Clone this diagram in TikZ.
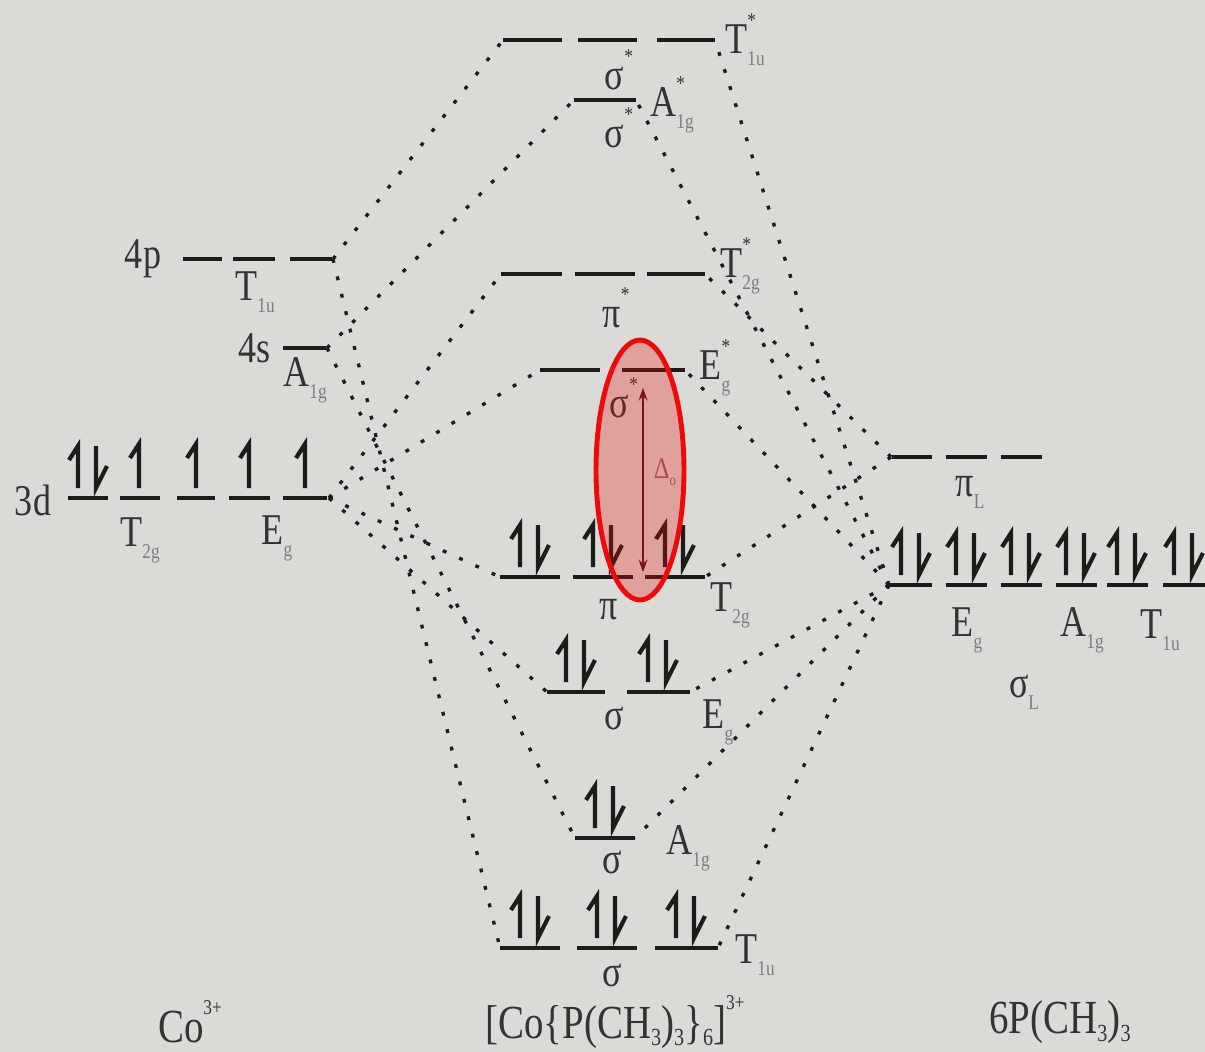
\documentclass[tikz,border=0pt]{standalone}
\usepackage{fontspec}
\usepackage{graphicx}
\setmainfont{Liberation Serif}
\usetikzlibrary{arrows.meta}
\definecolor{paper}{HTML}{DADAD6}
\definecolor{ink}{HTML}{1C1C1C}
\definecolor{inkgrey}{HTML}{333333}
\definecolor{subgrey}{HTML}{7C7C7C}
\definecolor{hilite}{HTML}{EE0A0A}
\definecolor{deltaink}{HTML}{4E1818}
\definecolor{deltalab}{HTML}{9A6060}

\newcommand{\nar}[1]{\scalebox{0.82}[1]{#1}}
\newcommand{\sbs}[1]{\raisebox{-0.6ex}{\fontsize{12}{12}\selectfont\color{subgrey}#1}}
\newcommand{\sps}[1]{\raisebox{1.3ex}{\fontsize{12}{12}\selectfont #1}}
\newcommand{\orb}[3]{\nar{#1\rlap{\sps{#3}}\sbs{#2}}}
\newcommand{\lsb}[1]{\raisebox{-0.35ex}{\fontsize{14}{14}\selectfont #1}}

\tikzset{
  lvl/.style={ink,line width=2.8pt},
  link/.style={ink,line width=1.9pt,dash pattern=on 2.2pt off 8pt},
  spin/.style={ink,line width=2.4pt},
  lab/.style={inkgrey,font=\fontsize{25}{25}\selectfont,inner sep=0pt},
  bigl/.style={inkgrey,font=\fontsize{27}{27}\selectfont,inner sep=0pt},
  pics/spinpair/.style={code={
    \draw[spin] (-10,-10)--(-10,-52)--(-19,-38);
    \draw[spin] (8,-52)--(8,-10)--(19,-32);}},
  pics/spinup/.style={code={
    \draw[spin] (0,-10)--(0,-54)--(-9,-40);}}
}

\begin{document}
\begin{tikzpicture}[x=0.02cm,y=-0.02cm]
  % Paper
  \useasboundingbox (0,0) rectangle (1205,1052);
  \fill[paper] (0,0) rectangle (1205,1052);
  % Metal levels
  \foreach \a/\b/\y in {183/222/259, 233/275/259, 290/332/259, 283/326/348,
    68/108/498, 120/160/498, 177/215/498, 229/270/498, 283/327/498}
    \draw[lvl] (\a,\y)--(\b,\y);
  \pic at (88,498) {spinpair};
  \foreach \cx in {139,196,249,305}
    \pic at (\cx,498) {spinup};
  \node[lab] (l4p) at (143,259) {\nar{4p}};
  \node[lab] (lt1um) at (255,292) {\orb{T}{1u}{}};
  \node[lab] (l4s) at (255,348) {\nar{4s}};
  \node[lab] (la1gm) at (305,380) {\orb{A}{1g}{}};
  \node[lab] (l3d) at (33,500) {\nar{3d}};
  \node[lab] (lt2gm) at (140,540) {\orb{T}{2g}{}};
  \node[lab] (legm) at (277,538) {\orb{E}{g}{}};
  % Complex levels
  \foreach \a/\b/\y in {503/562/40, 578/637/40, 657/715/40, 574/636/100,
    501/562/274, 575/635/274, 647/705/274, 540/600/370, 622/685/370,
    500/560/577, 573/633/577, 645/705/577, 547/605/692, 627/690/692,
    575/635/838, 500/560/948, 577/637/948, 655/718/948}
    \draw[lvl] (\a,\y)--(\b,\y);
  \foreach \cx/\y in {530/577, 603/577, 675/577, 576/692, 658/692,
    605/838, 530/948, 607/948, 686/948}
    \pic at (\cx,\y) {spinpair};
  \node[lab] (lt1us) at (745,40) {\orb{T}{1u}{*}};
  \node[lab] (ss1) at (619,70) {\nar{σ\sps{*}}};
  \node[lab] (la1gs) at (672,105) {\orb{A}{1g}{*}};
  \node[lab] (ss2) at (619,128) {\nar{σ\sps{*}}};
  \node[lab] (lt2gs) at (740,266) {\orb{T}{2g}{*}};
  \node[lab] (pps) at (616,308) {\nar{π\sps{*}}};
  \node[lab] (legs) at (715,368) {\orb{E}{g}{*}};
  \node[lab] (ss3) at (624,398) {\nar{σ\sps{*}}};
  \node[lab] (lt2g) at (730,605) {\orb{T}{2g}{}};
  \node[lab] (pp) at (609,610) {\nar{π}};
  \node[lab] (leg) at (718,722) {\orb{E}{g}{}};
  \node[lab] (s1) at (614,718) {\nar{σ}};
  \node[lab] (la1g) at (688,848) {\orb{A}{1g}{}};
  \node[lab] (s2) at (612,862) {\nar{σ}};
  \node[lab] (lt1u) at (755,955) {\orb{T}{1u}{}};
  \node[lab] (s3) at (612,975) {\nar{σ}};
  % Ligand levels
  \foreach \a/\b/\y in {892/932/457, 946/987/457, 1001/1042/457,
    890/932/585, 946/987/585, 1001/1042/585, 1056/1097/585,
    1107/1148/585, 1163/1205/585}
    \draw[lvl] (\a,\y)--(\b,\y);
  \foreach \cx in {911,966,1021,1076,1127,1184}
    \pic at (\cx,585) {spinpair};
  \node[lab] (lpil) at (970,492) {\nar{π\sbs{L}}};
  \node[lab] (legl) at (967,630) {\orb{E}{g}{}};
  \node[lab] (la1gl) at (1082,630) {\orb{A}{1g}{}};
  \node[lab] (lt1ul) at (1160,630) {\orb{T}{1u}{}};
  \node[lab] (lsigl) at (1024,692) {\nar{σ\sbs{L}}};
  % Level ends
  \coordinate (m4p) at (333,259);
  \coordinate (m4s) at (327,348);
  \coordinate (m3d) at (329,498);
  \coordinate (lpi) at (891,457);
  \coordinate (lsig) at (889,585);
  \foreach \n/\l/\r/\y in {t1us/503/715/40, a1gs/574/636/100,
    t2gs/501/705/274, egs/540/685/370, t2g/500/705/577,
    eg/547/690/692, a1g/575/635/838, t1u/500/718/948}{
    \coordinate (\n-l) at (\l,\y);
    \coordinate (\n-r) at (\r,\y);
  }
  % Correlation lines
  \foreach \t in {t1us,t1u} \draw[link] (m4p)--(\t-l);
  \foreach \t in {a1gs,a1g} \draw[link] (m4s)--(\t-l);
  \foreach \t in {t2gs,egs,t2g,eg} \draw[link] (m3d)--(\t-l);
  \foreach \t in {t1us,a1gs,egs,eg,a1g,t1u} \draw[link] (lsig)--(\t-r);
  \foreach \t in {t2gs,t2g} \draw[link] (lpi)--(\t-r);
  % Splitting
  \coordinate (dtop) at (643,388);
  \coordinate (dbot) at (643,572);
  \draw[deltaink,line width=1.2pt,{Stealth[length=7pt,width=5pt]}-{Stealth[length=7pt,width=5pt]}]
    (dtop)--(dbot);
  \node[deltalab,font=\fontsize{17}{17}\selectfont,inner sep=0pt] (ldel) at (665,472)
    {\nar{Δ\raisebox{-0.5ex}{\fontsize{9}{9}\selectfont o}}};
  \fill[hilite,fill opacity=0.27] (640,470) ellipse [x radius=0.88cm,y radius=2.6cm];
  \draw[hilite,line width=2.8pt] (640,470) ellipse [x radius=0.88cm,y radius=2.6cm];
  % Species
  \node[bigl] (co) at (190,1022) {\nar{Co\sps{3+}}};
  \node[bigl] (cplx) at (615,1022) {\nar{[Co\{P(CH\lsb{3})\lsb{3}\}\lsb{6}]\sps{3+}}};
  \node[bigl] (lig) at (1060,1022) {\nar{6P(CH\lsb{3})\lsb{3}}};
\end{tikzpicture}
\end{document}
